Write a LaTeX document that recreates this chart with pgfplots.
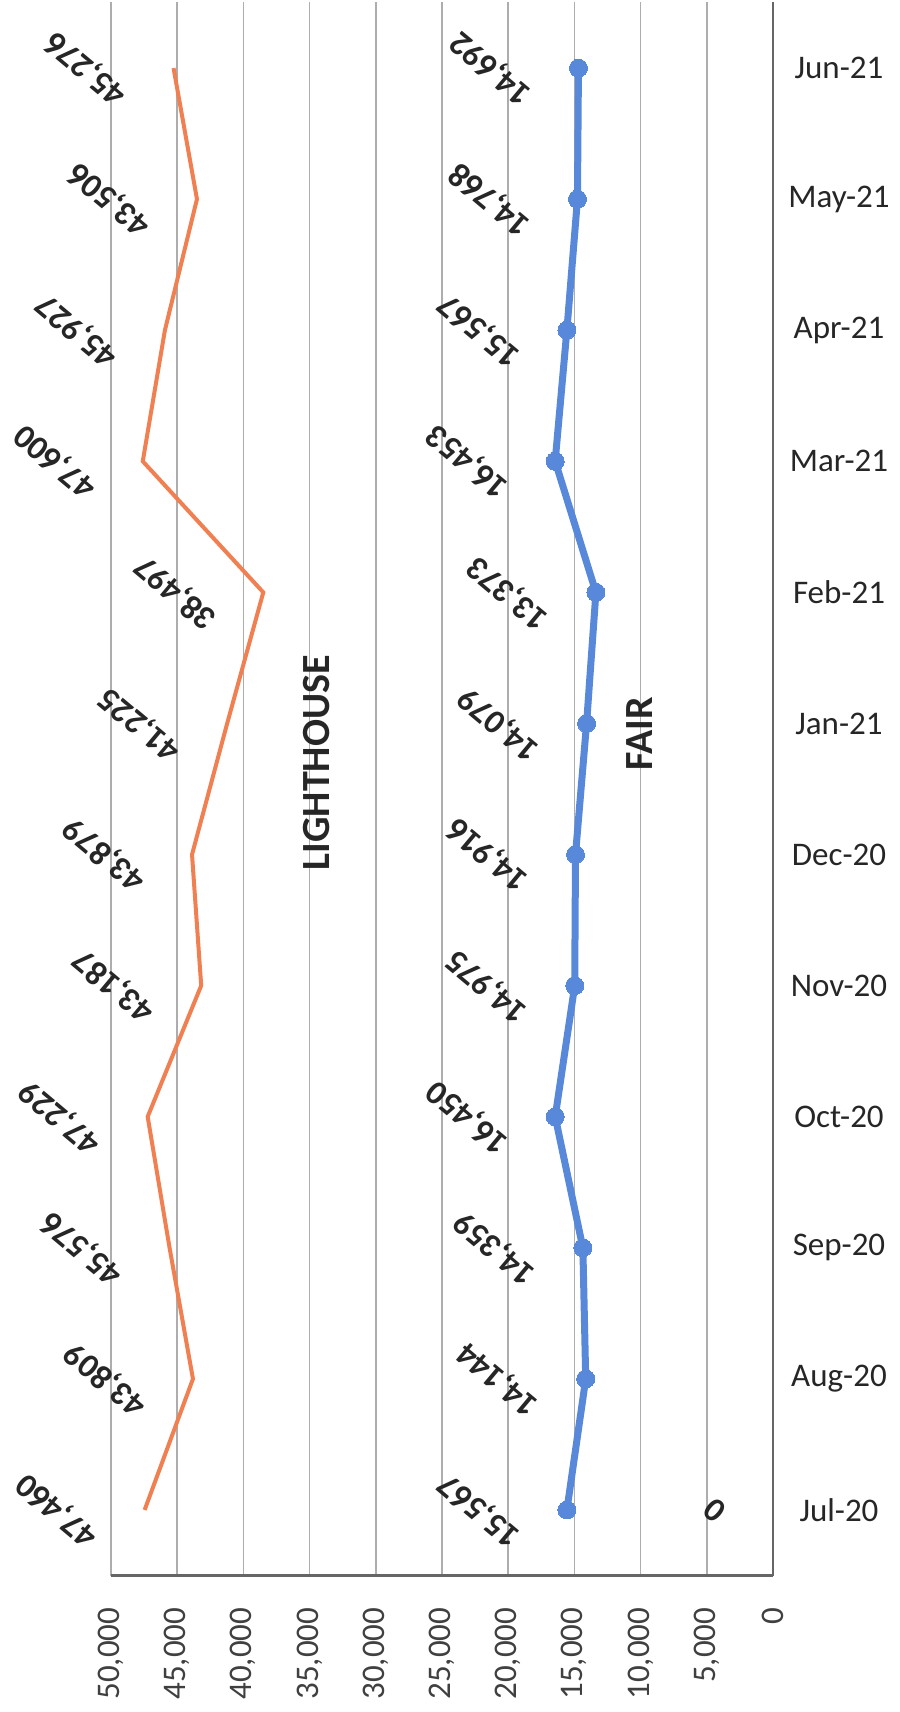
\documentclass[border=0pt]{standalone}
\usepackage{fontspec}
\setmainfont{Carlito}
\usepackage{pgfplots}
\usepackage{pgfplotstable}
\pgfplotsset{compat=1.18}

\definecolor{lhorange}{RGB}{240,128,82}
\definecolor{fairblue}{RGB}{88,136,218}

% y = month index, Jul-20 = 0 ... Jun-21 = 11
\pgfplotstableread{
x y label
47460 0 47,460
43809 1 43,809
45576 2 45,576
47229 3 47,229
43187 4 43,187
43879 5 43,879
41225 6 41,225
38497 7 38,497
47600 8 47,600
45927 9 45,927
43506 10 43,506
45276 11 45,276
}\lighthouse

\pgfplotstableread{
x y label
15567 0 15,567
14144 1 14,144
14359 2 14,359
16450 3 16,450
14975 4 14,975
14916 5 14,916
14079 6 14,079
13373 7 13,373
16453 8 16,453
15567 9 15,567
14768 10 14,768
14692 11 14,692
}\fair

\pgfplotstableread{
x y label
0 0 0
}\zero

\begin{document}
\begin{tikzpicture}
\begin{axis}[
    scale only axis,
    width=662pt, height=1573pt,
    x dir=reverse,
    xmin=0, xmax=50000,
    ymin=-0.5, ymax=11.5,
    axis line style={draw=none},
    xtick={0,5000,...,50000},
    xticklabels={0,{5,000},{10,000},{15,000},{20,000},{25,000},{30,000},{35,000},{40,000},{45,000},{50,000}},
    ytick={0,...,11},
    yticklabels={Jul-20,Aug-20,Sep-20,Oct-20,Nov-20,Dec-20,Jan-21,Feb-21,Mar-21,Apr-21,May-21,Jun-21},
    yticklabel pos=right,
    major tick length=0pt,
    xticklabel style={yshift=-32pt, rotate=90, anchor=east, inner sep=0pt,
        font=\fontsize{33}{40}\selectfont, text=black!75},
    yticklabel style={anchor=center, xshift=66pt,
        font=\fontsize{33}{40}\selectfont, text=black!85},
    xmajorgrids,
    grid style={black!32, line width=1.5pt},
    clip=false,
]

\addplot[lhorange, line width=4pt,
    point meta=explicit symbolic,
    nodes near coords={\pgfplotspointmeta},
    nodes near coords style={text=black!85, font=\bfseries\fontsize{34}{40}\selectfont,
        anchor=center, xshift=-87pt, rotate=140}]
    table[x=x, y=y, meta=label]{\lighthouse};

\addplot[fairblue, line width=7pt, mark=*, mark size=9pt,
    mark options={fill=fairblue, draw=fairblue, line width=0pt},
    point meta=explicit symbolic,
    nodes near coords={\pgfplotspointmeta},
    nodes near coords style={text=black!85, font=\bfseries\fontsize{34}{40}\selectfont,
        anchor=center, xshift=-87pt, rotate=140}]
    table[x=x, y=y, meta=label]{\fair};

\addplot[draw=none, mark=none,
    point meta=explicit symbolic,
    nodes near coords={\pgfplotspointmeta},
    nodes near coords style={text=black!85, font=\bfseries\fontsize{34}{40}\selectfont,
        anchor=center, xshift=-58pt, rotate=140}]
    table[x=x, y=y, meta=label]{\zero};

\draw[black!60, line width=2.5pt] (axis cs:50000,-0.5) -- (axis cs:0,-0.5);
\draw[black!60, line width=2pt] (axis cs:0,-0.5) -- (axis cs:0,11.5);

\node[rotate=90, font=\bfseries\fontsize{40}{48}\selectfont, text=black!85]
    at (axis cs:34441,5.70) {LIGHTHOUSE};
\node[rotate=90, font=\bfseries\fontsize{40}{48}\selectfont, text=black!85]
    at (axis cs:10045,5.92) {FAIR};
\end{axis}
\pgfresetboundingbox
\path[use as bounding box]
    ([shift={(-111pt,-136.5pt)}]current axis.south west)
    rectangle ([shift={(788pt,1575.5pt)}]current axis.south west);
\end{tikzpicture}
\end{document}
